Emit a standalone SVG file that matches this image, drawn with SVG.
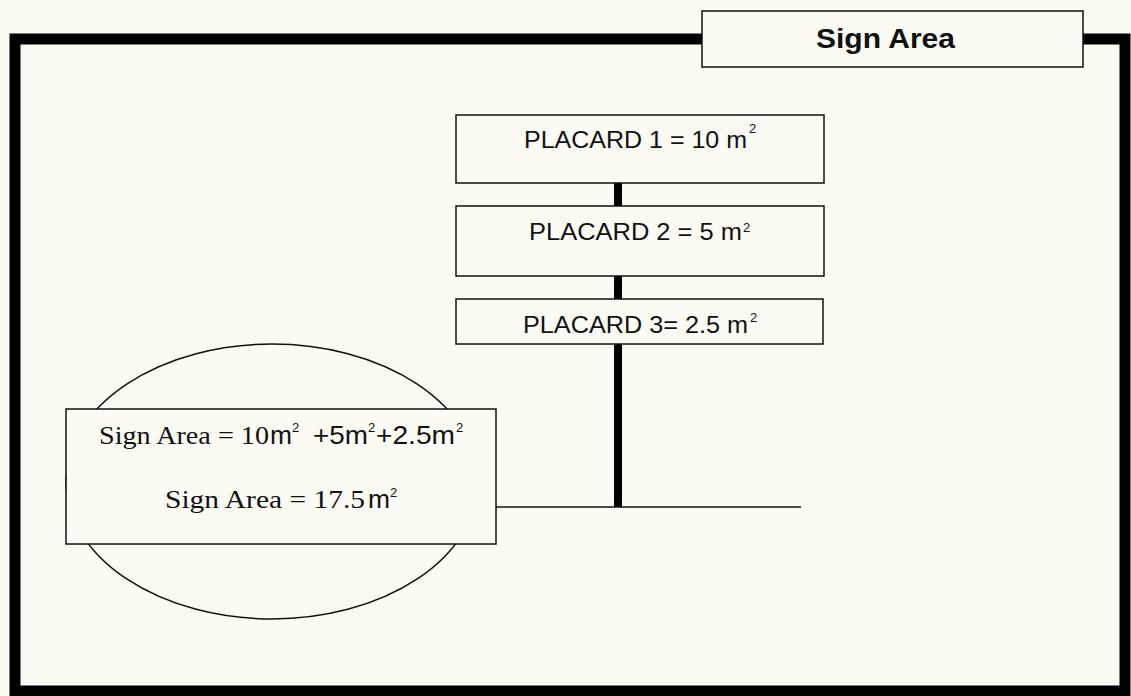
<svg xmlns="http://www.w3.org/2000/svg" width="1131" height="696" viewBox="0 0 1131 696">
<style>
.bg{fill:#fbfbf3}
.box{fill:#fbfbf3;stroke:#111;stroke-width:1.5}
.ar{font-family:"Liberation Sans",Arial,sans-serif;fill:#111}
.tm{font-family:"Liberation Serif","Times New Roman",serif;fill:#111}
.sup{font-family:"Liberation Sans",Arial,sans-serif;fill:#111;font-size:13px}
.thick{stroke:#000;stroke-width:8;fill:none}
.thin{stroke:#111;stroke-width:1.5;fill:none}
</style>
<rect class="bg" x="0" y="0" width="1131" height="696"/>
<g id="frame">
<rect x="15" y="39" width="1110" height="652" fill="none" stroke="#000" stroke-width="11"/>
</g>
<g id="title">
<rect class="box" x="702" y="11" width="381" height="56"/>
<text class="ar" x="816" y="48" font-size="28" font-weight="bold" textLength="139" lengthAdjust="spacingAndGlyphs">Sign Area</text>
</g>
<g id="connectors">
<line class="thick" x1="618" y1="183" x2="618" y2="206"/>
<line class="thick" x1="618" y1="276" x2="618" y2="299"/>
<line class="thick" x1="618" y1="344" x2="618" y2="507"/>
<line class="thin" x1="496" y1="507" x2="801" y2="507"/>
</g>
<g id="placard1">
<rect class="box" x="456" y="115" width="368" height="68"/>
<text class="ar" x="524" y="148" font-size="24" textLength="223" lengthAdjust="spacingAndGlyphs">PLACARD 1 = 10 m</text>
<text class="sup" x="749" y="133" font-size="11">2</text>
</g>
<g id="placard2">
<rect class="box" x="456" y="206" width="368" height="70"/>
<text class="ar" x="529" y="240" font-size="24" textLength="213" lengthAdjust="spacingAndGlyphs">PLACARD 2 = 5 m</text>
<text class="sup" x="743" y="232" font-size="11">2</text>
</g>
<g id="placard3">
<rect class="box" x="456" y="299" width="367" height="45"/>
<text class="ar" x="523" y="333" font-size="24" textLength="225" lengthAdjust="spacingAndGlyphs">PLACARD 3= 2.5 m</text>
<text class="sup" x="750" y="322" font-size="11">2</text>
</g>
<g id="sign-area">
<ellipse cx="272" cy="481.5" rx="206" ry="137.5" fill="#fbfbf3" stroke="#111" stroke-width="1.5"/>
<rect class="box" x="66" y="409" width="430" height="135"/>
<text class="tm" x="99" y="444" font-size="25" textLength="170" lengthAdjust="spacingAndGlyphs">Sign Area = 10</text>
<text class="ar" x="270" y="444" font-size="25" textLength="22" lengthAdjust="spacingAndGlyphs">m</text>
<text class="sup" x="292" y="432">2</text>
<text class="ar" x="313" y="444" font-size="25" textLength="55" lengthAdjust="spacingAndGlyphs">+5m</text>
<text class="sup" x="368" y="432">2</text>
<text class="ar" x="376" y="444" font-size="25" textLength="79" lengthAdjust="spacingAndGlyphs">+2.5m</text>
<text class="sup" x="456" y="432">2</text>
<text class="tm" x="165" y="508" font-size="25" textLength="200" lengthAdjust="spacingAndGlyphs">Sign Area = 17.5</text>
<text class="ar" x="368" y="508" font-size="25" textLength="22" lengthAdjust="spacingAndGlyphs">m</text>
<text class="sup" x="390" y="497">2</text>
</g>
</svg>
